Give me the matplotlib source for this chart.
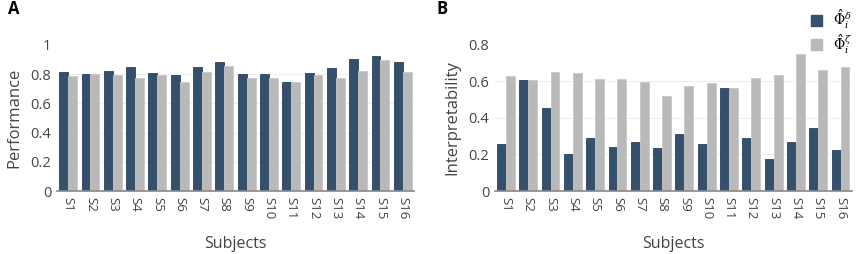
import numpy as np
import matplotlib.pyplot as plt
from matplotlib.patches import Patch

plt.rcParams['font.family'] = ['Open Sans', 'DejaVu Sans']
plt.rcParams['mathtext.fontset'] = 'dejavuserif'

subjects = ["S" + str(i) for i in range(1, 17)]

# panel A - performance
perf_delta = [0.817, 0.803, 0.821, 0.849, 0.810, 0.796, 0.847, 0.881,
              0.803, 0.803, 0.746, 0.808, 0.842, 0.906, 0.924, 0.883]
perf_zeta = [0.787, 0.803, 0.792, 0.771, 0.792, 0.744, 0.817, 0.858,
             0.771, 0.776, 0.746, 0.794, 0.771, 0.821, 0.899, 0.815]

# panel B - interpretability
interp_delta = [0.260, 0.606, 0.452, 0.203, 0.289, 0.242, 0.267, 0.236,
                0.313, 0.260, 0.564, 0.293, 0.176, 0.269, 0.346, 0.225]
interp_zeta = [0.632, 0.606, 0.650, 0.645, 0.612, 0.615, 0.595, 0.522,
               0.573, 0.590, 0.564, 0.621, 0.637, 0.753, 0.665, 0.678]

dark = "#35506d"
grey = "#b9b9b9"

fig = plt.figure(figsize=(8.56, 2.54), dpi=100)
axA = fig.add_axes([0.0666, 0.248, 0.417, 0.575])
axB = fig.add_axes([0.578, 0.248, 0.417, 0.575])

x = np.arange(len(subjects))
w = 0.4

def draw(ax, d, z, ymax, ticks, ticklabels, ylabel):
    ax.bar(x - w / 2, d, w, color=dark, edgecolor="#2a4260", linewidth=0.6, zorder=3)
    ax.bar(x + w / 2, z, w, color=grey, edgecolor="#c8c8c8", linewidth=0.6, zorder=3)
    ax.set_xlim(-0.5, len(subjects) - 0.5)
    ax.set_ylim(0, ymax)
    ax.set_yticks(ticks)
    ax.set_yticklabels(ticklabels, fontsize=10.5, color="#444444")
    ax.set_xticks(x)
    ax.set_xticklabels(subjects, rotation=-90, fontsize=9.5, color="#444444")
    ax.tick_params(length=0, pad=4)
    # light grid, no line at the top of the range
    for t in ticks[1:-1]:
        ax.axhline(t, color="#eeeeee", linewidth=0.8, zorder=0)
    for s in ["top", "right", "left"]:
        ax.spines[s].set_visible(False)
    ax.spines["bottom"].set_color("#888888")
    ax.spines["bottom"].set_linewidth(1.2)
    ax.spines["bottom"].set_zorder(4)
    ax.set_xlabel("Subjects", fontsize=11.5, color="#444444", labelpad=12)
    ax.set_ylabel(ylabel, fontsize=12, color="#444444", labelpad=6)

draw(axA, perf_delta, perf_zeta, 1.0, [0, 0.2, 0.4, 0.6, 0.8, 1.0],
     ["0", "0.2", "0.4", "0.6", "0.8", "1"], "Performance")
draw(axB, interp_delta, interp_zeta, 0.8, [0, 0.2, 0.4, 0.6, 0.8],
     ["0", "0.2", "0.4", "0.6", "0.8"], "Interpretability")

fig.text(0.009, 0.945, "A", fontsize=12, fontweight="bold")
fig.text(0.510, 0.945, "B", fontsize=12, fontweight="bold")

handles = [Patch(color=dark), Patch(color=grey)]
labels = [r"$\hat{\Phi}_i^{\delta}$", r"$\hat{\Phi}_i^{\zeta}$"]
fig.legend(handles, labels, loc="upper right", bbox_to_anchor=(1.01, 1.02),
           frameon=False, fontsize=10, handlelength=0.8, handleheight=0.8,
           labelspacing=0.05, handletextpad=0.8)

fig.savefig("out.png", dpi=100)
